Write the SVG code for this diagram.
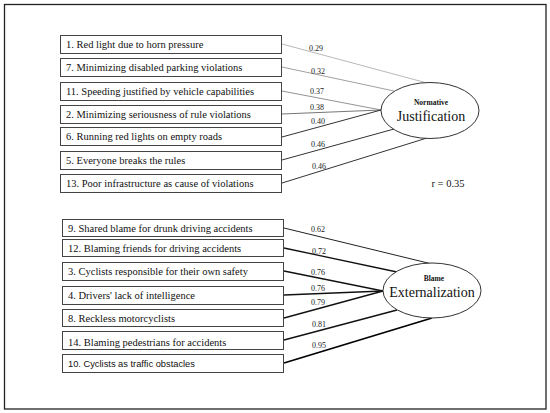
<svg xmlns="http://www.w3.org/2000/svg" width="550" height="413" viewBox="0 0 550 413">
<style>
.box{fill:#fff;stroke:#444;stroke-width:1}
.t{font-family:'Liberation Serif','Times New Roman',serif;font-size:10.5px;fill:#111}
.ts{font-family:'Liberation Sans',Arial,sans-serif;font-size:9.3px;fill:#111}
.w{font-family:'Liberation Serif','Times New Roman',serif;font-size:8px;fill:#222;text-anchor:middle}
.lv{fill:#fff;stroke:#333;stroke-width:1}
.big{font-family:'Liberation Serif','Times New Roman',serif;font-size:14px;fill:#111;text-anchor:middle}
.sm{font-family:'Liberation Serif','Times New Roman',serif;font-size:7.5px;font-weight:bold;fill:#111;text-anchor:middle}
line{fill:none}
</style>
<rect x="4.5" y="4.5" width="541.5" height="404.5" fill="#fff" stroke="#222" stroke-width="1.3"/>
<g id="connectors">
<line x1="282" y1="44" x2="427" y2="83" stroke="#999" stroke-width="0.7"/>
<line x1="282" y1="67" x2="394" y2="91" stroke="#888" stroke-width="0.8"/>
<line x1="282" y1="91" x2="381" y2="110" stroke="#777" stroke-width="0.8"/>
<line x1="282" y1="114" x2="381" y2="110" stroke="#666" stroke-width="0.9"/>
<line x1="282" y1="137" x2="381" y2="110" stroke="#333" stroke-width="1"/>
<line x1="282" y1="160" x2="394" y2="129" stroke="#333" stroke-width="1"/>
<line x1="282" y1="183" x2="427" y2="138" stroke="#333" stroke-width="1"/>
<line x1="284" y1="228" x2="432" y2="264" stroke="#222" stroke-width="1"/>
<line x1="284" y1="248" x2="397" y2="272" stroke="#111" stroke-width="1.3"/>
<line x1="284" y1="271" x2="383" y2="291" stroke="#111" stroke-width="1.3"/>
<line x1="284" y1="295" x2="383" y2="291" stroke="#111" stroke-width="1.3"/>
<line x1="284" y1="318" x2="383" y2="291" stroke="#111" stroke-width="1.3"/>
<line x1="284" y1="340" x2="397" y2="310" stroke="#111" stroke-width="1.3"/>
<line x1="284" y1="363" x2="432" y2="318" stroke="#000" stroke-width="1.8"/>
<text class="w" x="316" y="51">0.29</text>
<text class="w" x="318" y="74">0.32</text>
<text class="w" x="317" y="94">0.37</text>
<text class="w" x="317" y="110">0.38</text>
<text class="w" x="318" y="124">0.40</text>
<text class="w" x="318" y="147">0.46</text>
<text class="w" x="319" y="169">0.46</text>
<text class="w" x="318" y="232">0.62</text>
<text class="w" x="319" y="254">0.72</text>
<text class="w" x="318" y="275">0.76</text>
<text class="w" x="318" y="291">0.76</text>
<text class="w" x="318" y="305">0.79</text>
<text class="w" x="319" y="327">0.81</text>
<text class="w" x="319" y="348">0.95</text>
</g>
<g id="n1"><rect class="box" x="60.5" y="35.5" width="221" height="18"/><text class="t" x="66" y="48">1. Red light due to horn pressure</text></g>
<g id="n7"><rect class="box" x="60.5" y="58.5" width="221" height="18"/><text class="t" x="66" y="71">7. Minimizing disabled parking violations</text></g>
<g id="n11"><rect class="box" x="60.5" y="82.5" width="221" height="18"/><text class="t" x="66" y="95">11. Speeding justified by vehicle capabilities</text></g>
<g id="n2"><rect class="box" x="60.5" y="105.5" width="221" height="18"/><text class="t" x="66" y="118">2. Minimizing seriousness of rule violations</text></g>
<g id="n6"><rect class="box" x="60.5" y="127.5" width="221" height="18"/><text class="t" x="66" y="140">6. Running red lights on empty roads</text></g>
<g id="n5"><rect class="box" x="60.5" y="151.5" width="221" height="18"/><text class="t" x="66" y="164">5. Everyone breaks the rules</text></g>
<g id="n13"><rect class="box" x="60.5" y="174.5" width="221" height="18"/><text class="t" x="66" y="187">13. Poor infrastructure as cause of violations</text></g>
<g id="n9"><rect class="box" x="62.5" y="219.5" width="221" height="17"/><text class="t" x="68" y="232">9. Shared blame for drunk driving accidents</text></g>
<g id="n12"><rect class="box" x="62.5" y="239.5" width="221" height="17"/><text class="t" x="68" y="252">12. Blaming friends for driving accidents</text></g>
<g id="n3"><rect class="box" x="62.5" y="262.5" width="221" height="18"/><text class="t" x="68" y="275">3. Cyclists responsible for their own safety</text></g>
<g id="n4"><rect class="box" x="62.5" y="286.5" width="221" height="18"/><text class="t" x="68" y="299">4. Drivers' lack of intelligence</text></g>
<g id="n8"><rect class="box" x="62.5" y="309.5" width="221" height="17"/><text class="t" x="68" y="322">8. Reckless motorcyclists</text></g>
<g id="n14"><rect class="box" x="62.5" y="331.5" width="221" height="18"/><text class="t" x="68" y="346">14. Blaming pedestrians for accidents</text></g>
<g id="n10"><rect class="box" x="62.5" y="354.5" width="221" height="18"/><text class="ts" x="68" y="367">10. Cyclists as traffic obstacles</text></g>
<g id="nj"><ellipse class="lv" cx="430" cy="110.5" rx="49" ry="28"/><text class="sm" x="431" y="105">Normative</text><text class="big" x="431" y="121">Justification</text></g>
<g id="nb"><ellipse class="lv" cx="432" cy="290.5" rx="49" ry="27.5"/><text class="sm" x="434" y="281">Blame</text><text class="big" x="432" y="297">Externalization</text></g>
<text x="448" y="187" font-family="Liberation Serif, serif" font-size="10.5" fill="#111" text-anchor="middle">r = 0.35</text>
</svg>
